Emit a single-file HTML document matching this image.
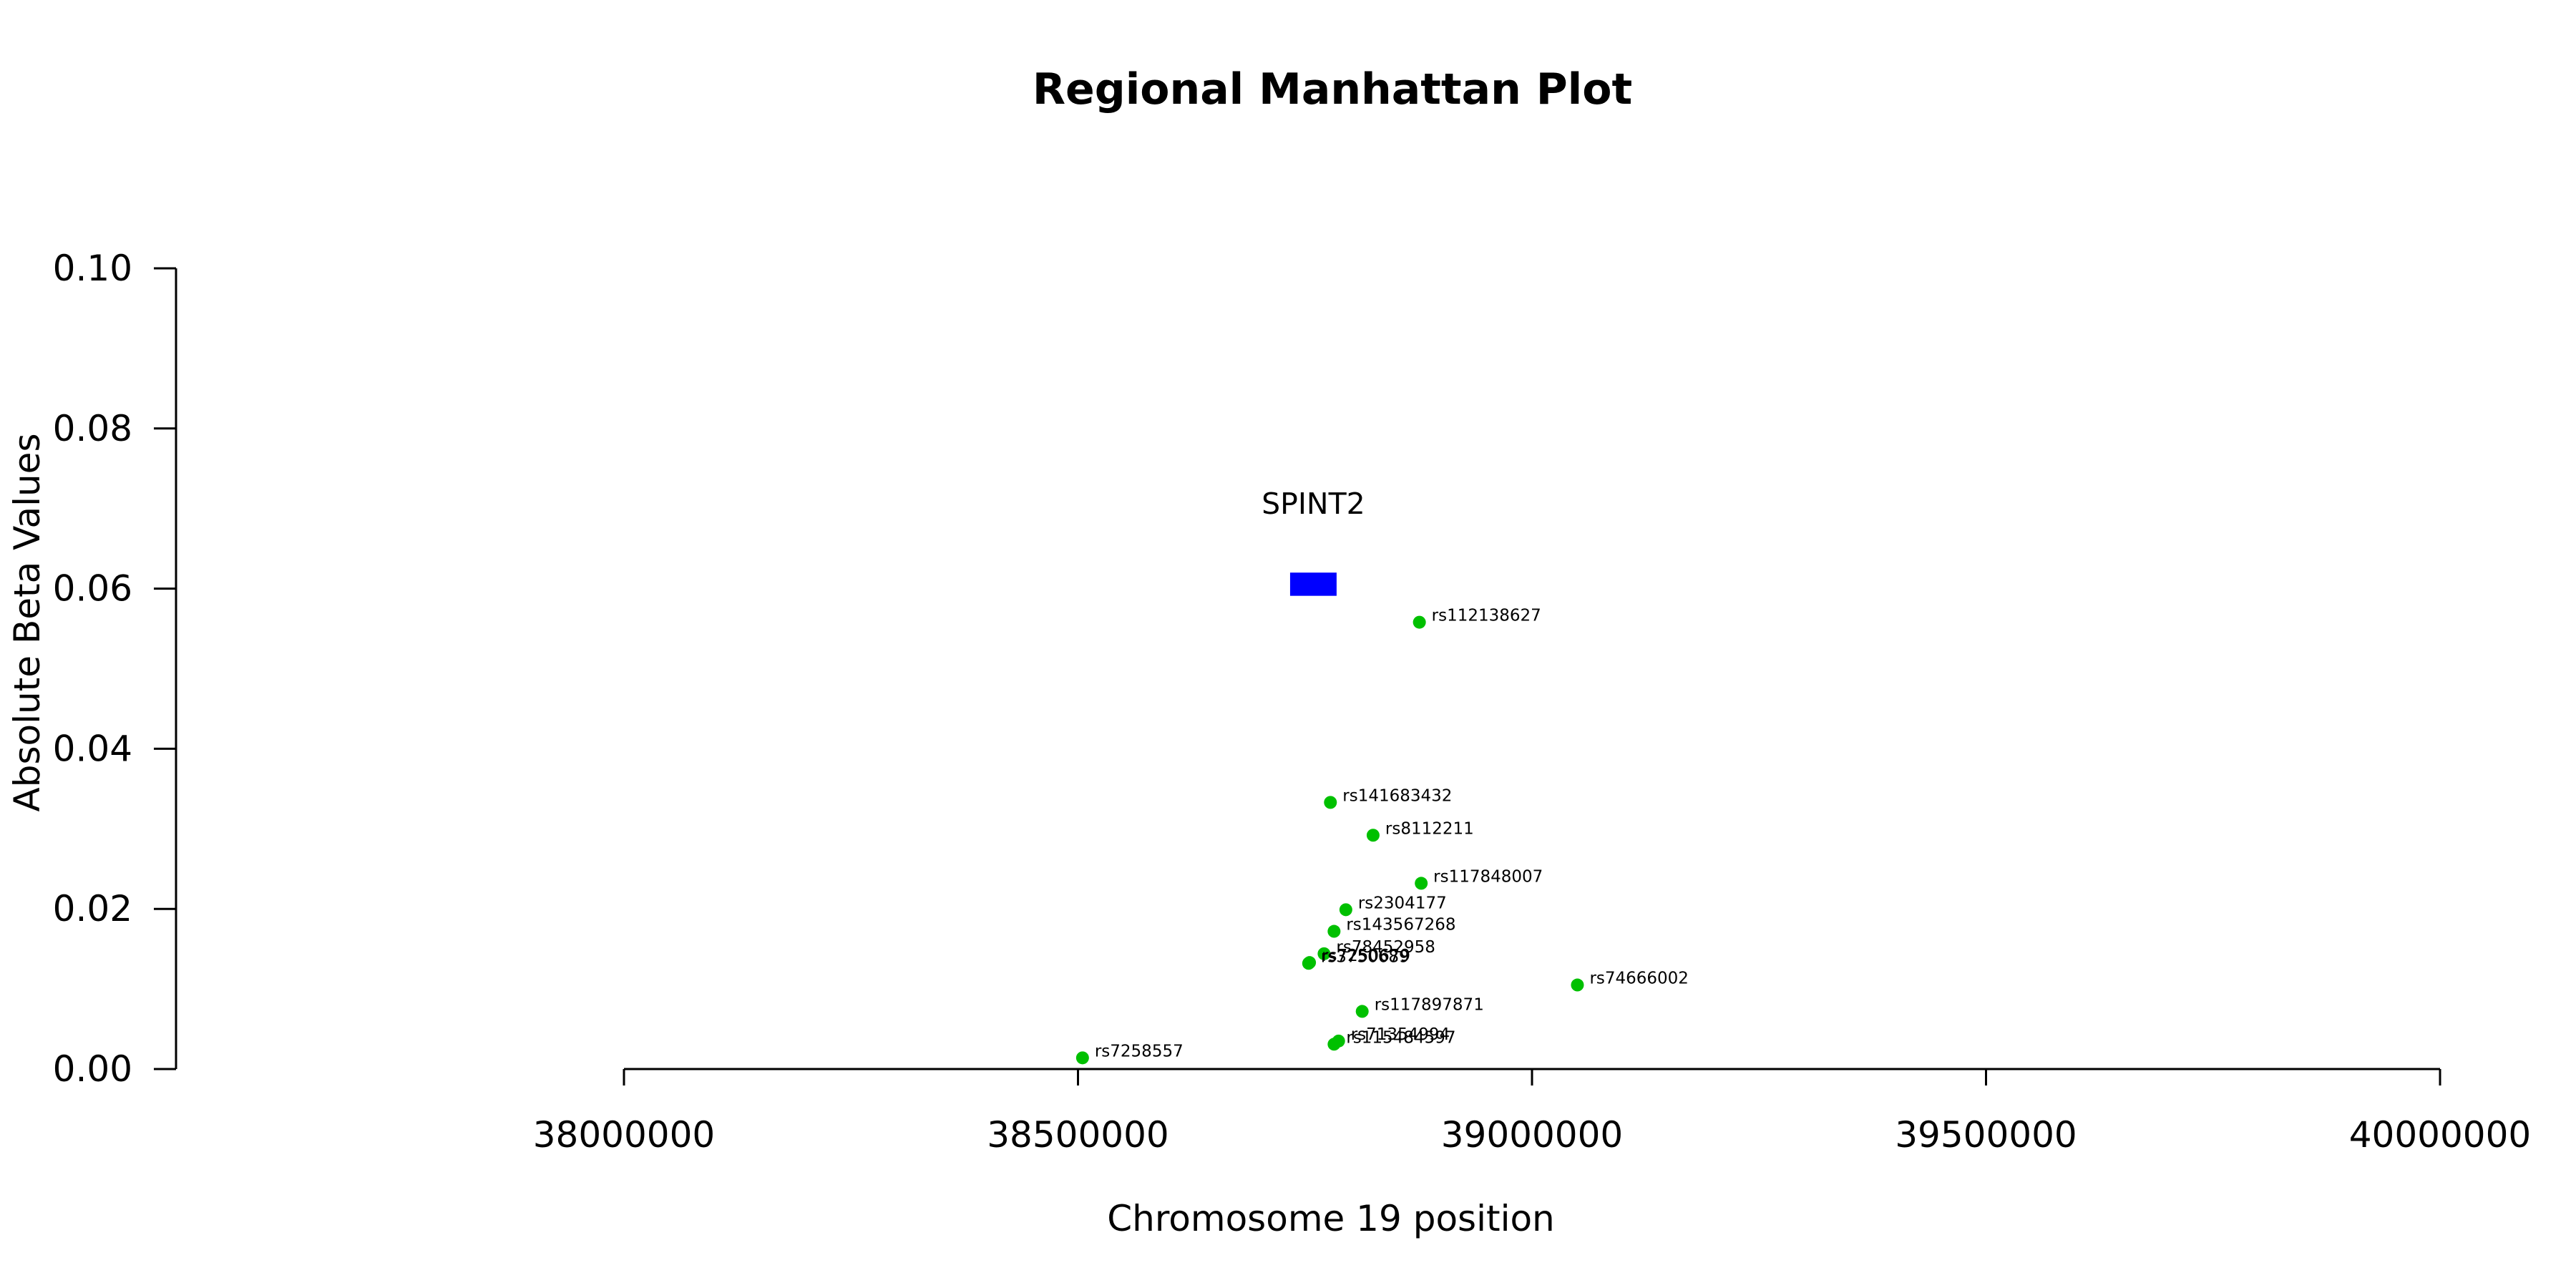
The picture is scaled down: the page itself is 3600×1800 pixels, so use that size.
<!DOCTYPE html>
<html><head><meta charset="utf-8"><style>
html,body{margin:0;padding:0;background:#fff;}
svg{display:block;font-family:"DejaVu Sans","Liberation Sans",sans-serif;}
</style></head><body>
<svg id="chart" width="3600" height="1800" viewBox="0 0 3600 1800" xmlns="http://www.w3.org/2000/svg">
<rect width="3600" height="1800" fill="#fff"/>
<text x="1862" y="145" font-size="60" font-weight="bold" text-anchor="middle">Regional Manhattan Plot</text>
<text x="1860" y="1720" font-size="50" text-anchor="middle">Chromosome 19 position</text>
<text transform="translate(55,870) rotate(-90)" font-size="50" text-anchor="middle">Absolute Beta Values</text>
<g id="axes"></g>
<g id="marks"></g>
</svg>
<script>
const xTicks = [38000000, 38500000, 39000000, 39500000, 40000000];
const yTicks = [0, 0.02, 0.04, 0.06, 0.08, 0.10];
const yTickLabels = ["0.00","0.02","0.04","0.06","0.08","0.10"];
const snpNames = ["rs112138627","rs141683432","rs8112211","rs117848007","rs2304177","rs143567268","rs78452958","rs7250679","rs3750689","rs74666002","rs117897871","rs71354994","rs115484597","rs7258557"];
const snpPos = [38876000,38778000,38825000,38878000,38795000,38782000,38771000,38755000,38754000,39050000,38813000,38787000,38782000,38505000];
const snpBeta = [0.0558,0.0333,0.0292,0.0232,0.0199,0.0172,0.0144,0.0133,0.0132,0.0105,0.0072,0.0035,0.0031,0.0014];
const geneNames = ["SPINT2"];
const geneStart = [38733600];
const geneEnd = [38784800];
const geneTop = [0.0620];
const geneBottom = [0.0591];

const NS = "http://www.w3.org/2000/svg";
const X = v => 872 + (v - 38000000) * (3410 - 872) / 2000000;
const Y = v => 1494 - v * (1494 - 375) / 0.1;
function mk(tag, attrs, parent, txt){
  const e = document.createElementNS(NS, tag);
  for (const k in attrs) e.setAttribute(k, attrs[k]);
  if (txt !== undefined) e.textContent = txt;
  parent.appendChild(e); return e;
}
const axes = document.getElementById('axes');
const marks = document.getElementById('marks');

// y axis
let yl = mk('line',{x1:246,x2:246,y1:Y(0.1),y2:Y(0),stroke:'#000','stroke-width':3},axes);


yTicks.forEach((t,i)=>{
  const tk = mk('line',{x1:215,x2:246,y1:Y(t),y2:Y(t),stroke:'#000','stroke-width':3},axes);
  
  
  const tl = mk('text',{x:185,y:Y(t)+17,'font-size':50,'text-anchor':'end'},axes,yTickLabels[i]);
  
  
});
// x axis
let xl = mk('line',{x1:X(38000000),x2:X(40000000),y1:1494,y2:1494,stroke:'#000','stroke-width':3},axes);


xTicks.forEach(t=>{
  const tk = mk('line',{x1:X(t),x2:X(t),y1:1494,y2:1517,stroke:'#000','stroke-width':3},axes);
  
  
  const tl = mk('text',{x:X(t),y:1603,'font-size':50,'text-anchor':'middle'},axes,String(t));
  
  
});
// gene
geneNames.forEach((g,i)=>{
  const r = mk('rect',{x:X(geneStart[i]),y:Y(geneTop[i]),width:X(geneEnd[i])-X(geneStart[i]),height:Y(geneBottom[i])-Y(geneTop[i]),fill:'#0000ff'},marks);
  
  
  const t = mk('text',{x:(X(geneStart[i])+X(geneEnd[i]))/2,y:Y(geneTop[i])-82,'font-size':41,'text-anchor':'middle'},marks,g);
  
  
});
// snps
snpNames.forEach((n,i)=>{
  const c = mk('circle',{cx:X(snpPos[i]),cy:Y(snpBeta[i]),r:9,fill:'#00c000'},marks);
  
  
  const t = mk('text',{x:X(snpPos[i])+17,y:Y(snpBeta[i])-2,'font-size':23},marks,n);
  
  
});
</script>
</body></html>
